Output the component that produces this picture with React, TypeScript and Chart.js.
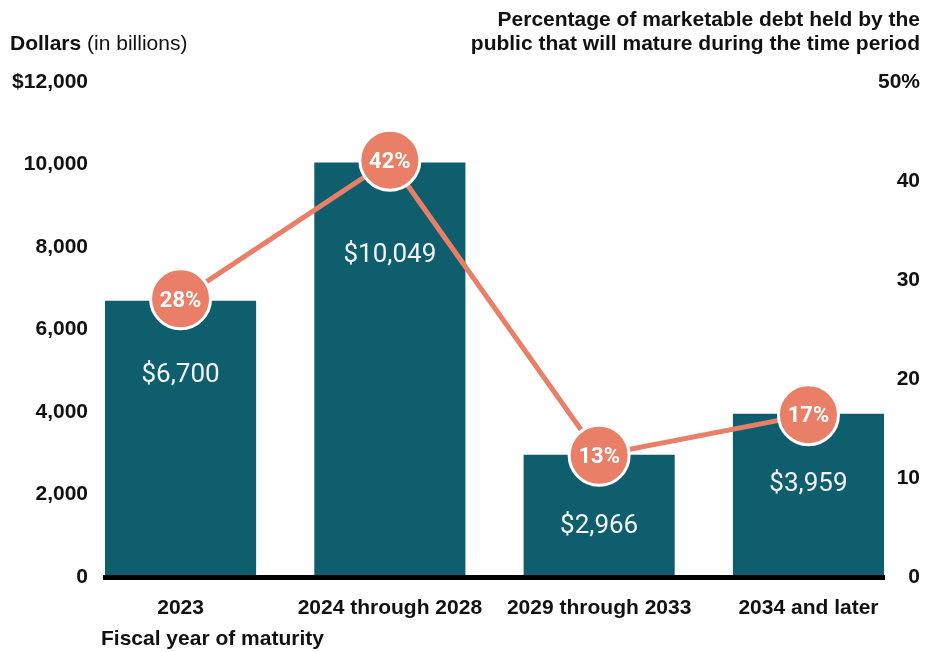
import React, { useEffect, useRef } from 'react';
import { Chart, registerables } from 'chart.js';

Chart.register(...registerables);

// ---- data ----
const categories = ['2023', '2024 through 2028', '2029 through 2033', '2034 and later'];
const debtBillions = [6700, 10049, 2966, 3959];
const debtLabels = ['$6,700', '$10,049', '$2,966', '$3,959'];
const maturePercent = [28.1, 42.1, 12.3, 16.4];
const percentLabels = ['28%', '42%', '13%', '17%'];
const leftTicks = [0, 2000, 4000, 6000, 8000, 10000, 12000];
const rightTicks = [0, 10, 20, 30, 40, 50];

// ---- styles ----
const BAR = '#0f5e6e';
const ORANGE = '#e97f67';
const INK = '#111111';
const SANS = '"Liberation Sans", Arial, sans-serif';
const ROBOTO = 'Roboto, "Liberation Sans", sans-serif';
const BAR_LABEL_OFFSETS = [72, 90, 69, 68];

const annotations = {
  id: 'annotations',
  afterDraw(chart: any) {
    const ctx = chart.ctx;
    const barMeta = chart.getDatasetMeta(0);
    const lineMeta = chart.getDatasetMeta(1);
    ctx.save();
    // values inside bars
    ctx.fillStyle = '#f4f4f4';
    ctx.textAlign = 'center';
    ctx.textBaseline = 'alphabetic';
    ctx.font = '400 26px ' + ROBOTO;
    barMeta.data.forEach((bar: any, i: number) => {
      const cy = bar.y + BAR_LABEL_OFFSETS[i];
      ctx.fillText(debtLabels[i], bar.x, cy + 9.2);
    });
    // percentages inside circles
    ctx.fillStyle = '#ffffff';
    ctx.font = '700 22px ' + ROBOTO;
    lineMeta.data.forEach((pt: any, i: number) => {
      ctx.fillText(percentLabels[i], pt.x, pt.y + 7.8);
    });
    // titles
    ctx.fillStyle = INK;
    ctx.textAlign = 'left';
    ctx.font = 'bold 21px ' + SANS;
    ctx.fillText('Dollars', 10, 50);
    const w = ctx.measureText('Dollars ').width;
    ctx.font = '21px ' + SANS;
    ctx.fillText('(in billions)', 10 + w, 50);
    ctx.font = 'bold 21px ' + SANS;
    ctx.fillText('Fiscal year of maturity', 101, 645);
    ctx.textAlign = 'right';
    ctx.fillText('Percentage of marketable debt held by the', 920, 26);
    ctx.fillText('public that will mature during the time period', 920, 50);
    ctx.restore();
  },
};

export default function App() {
  const ref = useRef<HTMLCanvasElement | null>(null);

  useEffect(() => {
    if (!ref.current) return;
    const tickFont = { family: SANS, size: 21, weight: 'bold' as const };
    const chart = new Chart(ref.current, {
      type: 'bar',
      data: {
        datasets: [
          {
            type: 'bar',
            data: debtBillions.map((v, i) => ({ x: i, y: v })),
            backgroundColor: BAR,
            barPercentage: 0.722,
            categoryPercentage: 1,
            yAxisID: 'y',
            order: 2,
          } as any,
          {
            type: 'line',
            data: maturePercent.map((v, i) => ({ x: i, y: v })),
            borderColor: ORANGE,
            borderWidth: 5,
            pointRadius: 30,
            pointHoverRadius: 30,
            pointBackgroundColor: ORANGE,
            pointBorderColor: '#ffffff',
            pointBorderWidth: 3,
            yAxisID: 'y1',
            order: 1,
            clip: false,
          } as any,
        ],
      },
      options: {
        animation: false,
        responsive: false,
        layout: { padding: { left: 0, right: 6, top: 82, bottom: 0 } },
        plugins: { legend: { display: false }, tooltip: { enabled: false } },
        events: [],
        scales: {
          x: {
            type: 'linear',
            min: -0.361,
            max: 3.361,
            offset: false,
            bounds: 'data',
            afterBuildTicks: (s: any) => {
              s.ticks = categories.map((_, i) => ({ value: i }));
            },
            afterFit: (s: any) => {
              s.height = 75;
            },
            grid: { display: false, drawTicks: false, offset: false },
            border: { display: true, color: '#000000', width: 5, z: 1 },
            ticks: {
              padding: 19,
              color: INK,
              font: tickFont,
              maxRotation: 0,
              autoSkip: false,
              callback: (v: any) => categories[v as number] ?? '',
            },
          },
          y: {
            position: 'left',
            min: 0,
            max: 12000,
            afterBuildTicks: (s: any) => {
              s.ticks = leftTicks.map((v) => ({ value: v }));
            },
            afterFit: (s: any) => {
              s.width = 105;
            },
            grid: { display: false, drawTicks: false },
            border: { display: false },
            ticks: {
              padding: 17,
              color: INK,
              font: tickFont,
              callback: (v: any) =>
                v === 12000 ? '$12,000' : Number(v).toLocaleString('en-US'),
            },
          },
          y1: {
            position: 'right',
            min: 0,
            max: 50,
            afterBuildTicks: (s: any) => {
              s.ticks = rightTicks.map((v) => ({ value: v }));
            },
            afterFit: (s: any) => {
              s.width = 36;
              // let the "50%" label extend slightly left of the axis box
              s._computeLabelArea = () => undefined;
            },
            grid: { display: false, drawTicks: false },
            border: { display: false },
            ticks: {
              crossAlign: 'far',
              color: INK,
              font: tickFont,
              callback: (v: any) => (v === 50 ? '50%' : String(v)),
            },
          },
        },
      } as any,
      plugins: [annotations],
    });
    return () => chart.destroy();
  }, []);

  return (
    <div style={{ position: 'absolute', left: 0, top: 0, width: 926, height: 652 }}>
      <canvas ref={ref} width={926} height={652} />
    </div>
  );
}
